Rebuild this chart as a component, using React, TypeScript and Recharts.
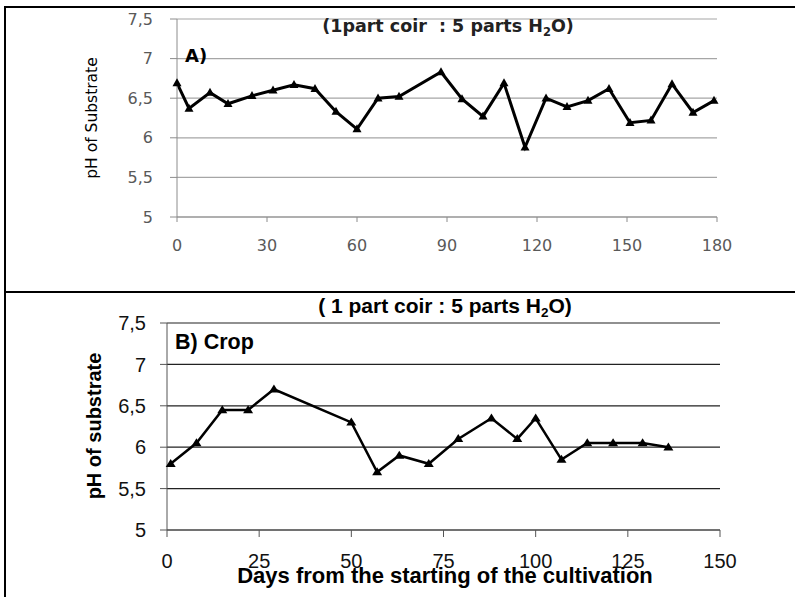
import React from 'react'
import { LineChart, Line, XAxis, YAxis, CartesianGrid } from 'recharts'

// A) substrate pH over 180 days
const topDays = [0, 4, 11, 17, 25, 32, 39, 46, 53, 60, 67, 74, 88, 95, 102, 109, 116, 123, 130, 137, 144, 151, 158, 165, 172, 179]
const topPh = [6.69, 6.37, 6.57, 6.43, 6.53, 6.6, 6.67, 6.62, 6.33, 6.11, 6.5, 6.52, 6.83, 6.49, 6.27, 6.69, 5.88, 6.5, 6.39, 6.47, 6.62, 6.19, 6.22, 6.68, 6.32, 6.47]
const topXTicks = [0, 30, 60, 90, 120, 150, 180]

// B) crop substrate pH
const cropDays = [1, 8, 15, 22, 29, 50, 57, 63, 71, 79, 88, 95, 100, 107, 114, 121, 129, 136]
const cropPh = [5.8, 6.05, 6.45, 6.45, 6.7, 6.3, 5.7, 5.9, 5.8, 6.1, 6.35, 6.1, 6.35, 5.85, 6.05, 6.05, 6.05, 6.0]
const cropXTicks = [0, 25, 50, 75, 100, 125, 150]

const phTicks = [5, 5.5, 6, 6.5, 7, 7.5]

const topData = topDays.map((d, i) => ({ day: d, ph: topPh[i] }))
const cropData = cropDays.map((d, i) => ({ day: d, ph: cropPh[i] }))

const comma = (v: number) => String(v).replace('.', ',')

const triangle = (w: number, h: number) => (props: any) => {
  const { cx, cy, index } = props
  if (cx == null || cy == null) return <g key={index} />
  return (
    <path
      key={index}
      d={`M${cx},${cy - h * 0.6} L${cx + w / 2},${cy + h * 0.4} L${cx - w / 2},${cy + h * 0.4} Z`}
      fill="#000"
    />
  )
}

const topFont = 'DejaVu Sans, sans-serif'
const arial = 'Liberation Sans, Arial, sans-serif'

export default function App() {
  return (
    <div style={{ position: 'absolute', left: 0, top: 0, width: 795, height: 597, background: '#fff', overflow: 'hidden' }}>
      {/* frame */}
      <div style={{ position: 'absolute', left: 4, top: 6, width: 791, height: 2, background: '#000' }} />
      <div style={{ position: 'absolute', left: 4, top: 6, width: 2, height: 591, background: '#000' }} />
      <div style={{ position: 'absolute', left: 4, top: 291, width: 791, height: 2, background: '#000' }} />

      <div style={{ position: 'absolute', left: 0, top: 0 }}>
        <LineChart width={795} height={291} data={topData} margin={{ top: 19, right: 78, left: 0, bottom: 44 }}>
          <CartesianGrid vertical={false} stroke="#a6a6a6" strokeWidth={1.2} />
          <XAxis
            dataKey="day"
            type="number"
            domain={[0, 180]}
            ticks={topXTicks}
            height={30}
            stroke="#8c8c8c"
            tickSize={5}
            tickMargin={18}
            tick={{ fill: '#595959', fontSize: 16, fontFamily: topFont }}
          />
          <YAxis
            type="number"
            domain={[5, 7.5]}
            ticks={phTicks}
            width={177}
            stroke="#8c8c8c"
            tickSize={7}
            tickMargin={17}
            tickFormatter={comma}
            tick={{ fill: '#595959', fontSize: 16, fontFamily: topFont }}
          />
          <Line
            dataKey="ph"
            stroke="#000"
            strokeWidth={3}
            dot={triangle(9, 8)}
            isAnimationActive={false}
          />
        </LineChart>
      </div>

      <div style={{ position: 'absolute', left: 0, top: 291 }}>
        <LineChart width={795} height={306} data={cropData} margin={{ top: 32, right: 75, left: 0, bottom: 37 }}>
          <CartesianGrid vertical={false} stroke="#222" strokeWidth={1.2} />
          <XAxis
            dataKey="day"
            type="number"
            domain={[0, 150]}
            ticks={cropXTicks}
            height={30}
            stroke="#555"
            tickSize={7}
            tickMargin={17}
            tick={{ fill: '#111', fontSize: 20, fontFamily: arial }}
          />
          <YAxis
            type="number"
            domain={[5, 7.5]}
            ticks={phTicks}
            width={167}
            stroke="#555"
            tickSize={7}
            tickMargin={14}
            tickFormatter={comma}
            tick={{ fill: '#111', fontSize: 20, fontFamily: arial }}
          />
          <Line
            dataKey="ph"
            stroke="#000"
            strokeWidth={2.5}
            dot={triangle(10, 8)}
            isAnimationActive={false}
          />
        </LineChart>
      </div>

      {/* titles and axis labels */}
      <svg width={795} height={597} style={{ position: 'absolute', left: 0, top: 0, pointerEvents: 'none' }}>
        <text x={448} y={32} textAnchor="middle" fontFamily={topFont} fontWeight="bold" fontSize={17.5} fill="#222">
          {'(1part coir\u00a0 : 5 parts H'}<tspan fontSize={11.5} dy={4}>2</tspan><tspan dy={-4}>O)</tspan>
        </text>
        <text x={185} y={61.5} fontFamily={topFont} fontWeight="bold" fontSize={18} fill="#000">A)</text>
        <text
          x={92}
          y={118}
          textAnchor="middle"
          dominantBaseline="central"
          transform="rotate(-90 92 118)"
          fontFamily={topFont}
          fontSize={15.5}
          fill="#000"
        >
          pH of Substrate
        </text>

        <text x={445} y={312.5} textAnchor="middle" fontFamily={arial} fontWeight="bold" fontSize={21} fill="#000">
          ( 1 part coir : 5 parts H<tspan fontSize={13.5} dy={4}>2</tspan><tspan dy={-4}>O)</tspan>
        </text>
        <text x={175} y={349.3} fontFamily={arial} fontWeight="bold" fontSize={21.5} fill="#000">B) Crop</text>
        <text
          x={94}
          y={426}
          textAnchor="middle"
          dominantBaseline="central"
          transform="rotate(-90 94 426)"
          fontFamily={arial}
          fontWeight="bold"
          fontSize={20}
          fill="#000"
        >
          pH of substrate
        </text>
        <text x={445} y={583} textAnchor="middle" fontFamily={arial} fontWeight="bold" fontSize={22} fill="#000">
          Days from the starting of the cultivation
        </text>
      </svg>
    </div>
  )
}
